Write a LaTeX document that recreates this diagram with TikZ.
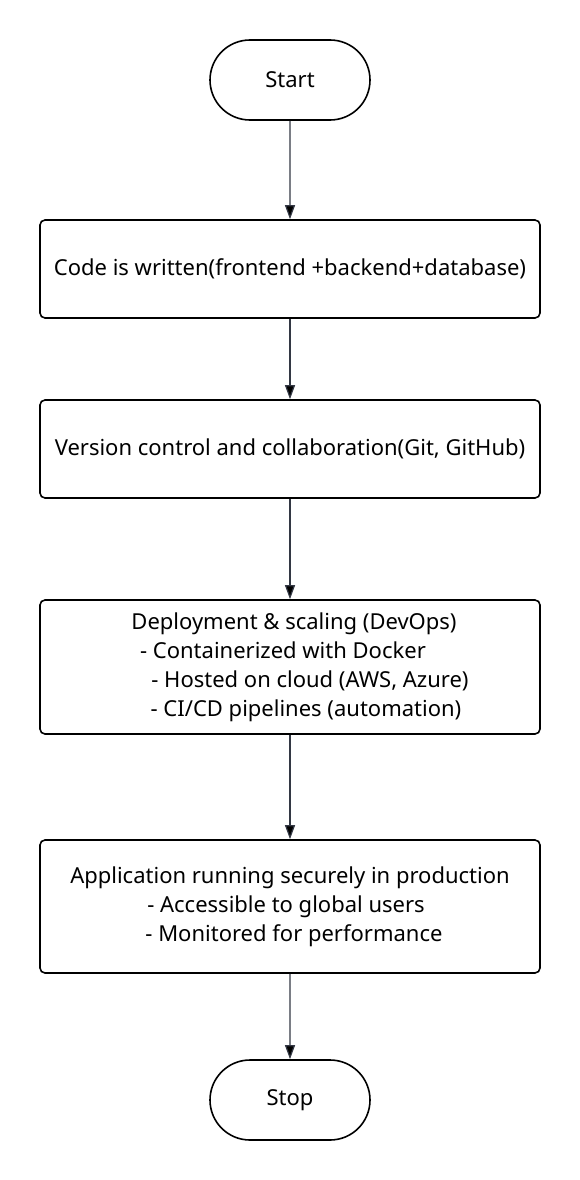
\documentclass[tikz,border=0pt]{standalone}
\usepackage{fontspec}
\setmainfont{Noto Sans}
\usepackage{tikz}
\usetikzlibrary{arrows.meta}
\usetikzlibrary{positioning}
\usetikzlibrary{shapes.misc}
\definecolor{arrowgray}{HTML}{333844}
\tikzset{
  terminal/.style={draw=black, line width=1.6pt, rounded rectangle,
    minimum width=160pt, minimum height=80pt, inner sep=0pt},
  process/.style={draw=black, line width=1.6pt, rounded corners=5pt,
    minimum width=500pt, align=center, inner sep=0pt},
  flow/.style={draw=arrowgray, line width=1.2pt,
    -{Triangle[length=14pt,width=10pt]}}
}

\begin{document}
\begin{tikzpicture}[x=1pt, y=1pt,
      node distance=180pt,
      on grid,
      font=\fontsize{22pt}{29pt}\selectfont]

    \useasboundingbox (0,0) rectangle (580,-1180);

    \node[terminal]
      (Start) at (290,-80) {Start};
    \node[process, minimum height=98pt]
      (Written) [below=189pt of Start] {Code is written(frontend +backend+database)};
    \node[process, minimum height=98pt]
      (Version) [below=of Written] {Version control and collaboration(Git, GitHub)};
    \node[process, minimum height=134pt]
      (Deploy) [below=218pt of Version]
      {\hspace*{8pt}Deployment \& scaling (DevOps)\\
       \hspace*{-14pt}- Containerized with Docker\\
       \hspace*{40pt}- Hosted on cloud (AWS, Azure)\\
       \hspace*{32pt}- CI/CD pipelines (automation)};
    \node[process, minimum height=133pt]
      (Running) [below=239.5pt of Deploy]
      {Application running securely in production\\
       \hspace*{-8pt}- Accessible to global users\\
       \hspace*{8pt}- Monitored for performance};
    \node[terminal]
      (Stop) [below=193.5pt of Running] {Stop};

    \path[flow]
      (Start) edge (Written)
      (Written) edge (Version)
      (Version) edge (Deploy)
      (Deploy) edge (Running)
      (Running) edge (Stop);

\end{tikzpicture}
\end{document}
